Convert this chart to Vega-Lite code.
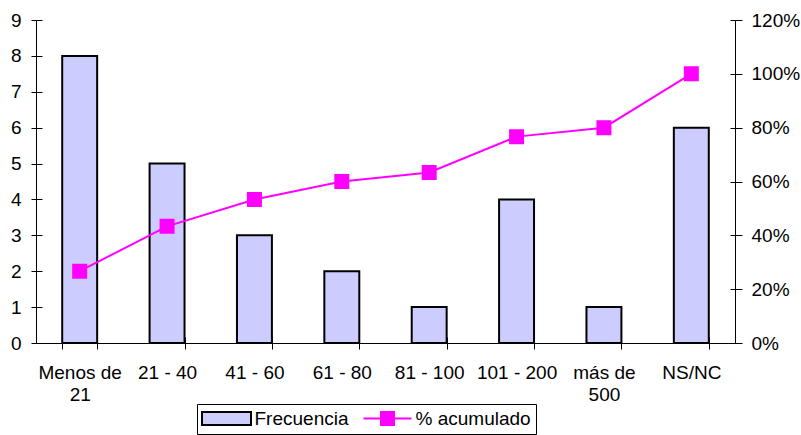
{
  "$schema": "https://vega.github.io/schema/vega-lite/v6.json",
  "width": 699,
  "height": 323,
  "autosize": {"type": "none"},
  "padding": {"left": 36, "top": 20, "right": 66, "bottom": 92},
  "background": "white",
  "config": {
    "view": {"stroke": null},
    "font": "Liberation Sans",
    "axis": {
      "labelFont": "Liberation Sans",
      "labelFontSize": 19,
      "labelColor": "black",
      "domainColor": "black",
      "domainWidth": 1,
      "tickColor": "black",
      "tickWidth": 1,
      "grid": false,
      "title": null
    },
    "legend": {
      "orient": "none", "legendX": 161, "legendY": 384, "direction": "horizontal",
      "title": null, "strokeColor": "black", "padding": 5,
      "symbolSize": 100, "symbolOffset": 15, "labelOffset": 18.5, "columnPadding": 10,
      "symbolStrokeWidth": 2, "symbolOpacity": 1, "symbolStrokeColor": "black",
      "labelFontSize": 19, "labelFont": "Liberation Sans", "labelColor": "black"
    }
  },
  "data": {
    "values": [
      {"cat": "Menos de 21", "freq": 8, "pct": 0.2667},
      {"cat": "21 - 40", "freq": 5, "pct": 0.4333},
      {"cat": "41 - 60", "freq": 3, "pct": 0.5333},
      {"cat": "61 - 80", "freq": 2, "pct": 0.6},
      {"cat": "81 - 100", "freq": 1, "pct": 0.6333},
      {"cat": "101 - 200", "freq": 4, "pct": 0.7667},
      {"cat": "más de 500", "freq": 1, "pct": 0.8},
      {"cat": "NS/NC", "freq": 6, "pct": 1.0}
    ]
  },
  "layer": [
    {
      "mark": {"type": "bar", "stroke": "black", "strokeWidth": 2},
      "encoding": {
        "x": {
          "field": "cat", "type": "nominal",
          "scale": {"domain": ["Menos de 21", "21 - 40", "41 - 60", "61 - 80", "81 - 100", "101 - 200", "más de 500", "NS/NC"], "paddingInner": 0.6, "paddingOuter": 0.3},
          "axis": {
            "orient": "bottom", "labelAngle": 0, "tickBand": "extent", "tickSize": 6,
            "labelPadding": 14, "labelBaseline": "top", "labelLineHeight": 22,
            "labelExpr": "datum.value == 'Menos de 21' ? ['Menos de', '21'] : datum.value == 'más de 500' ? ['más de', '500'] : datum.value"
          }
        },
        "y": {
          "field": "freq", "type": "quantitative",
          "scale": {"domain": [0, 9]},
          "axis": {"orient": "left", "values": [0, 1, 2, 3, 4, 5, 6, 7, 8, 9], "tickSize": 5, "labelPadding": 10}
        },
        "fill": {
          "datum": "Frecuencia",
          "scale": {"domain": ["Frecuencia", "% acumulado"], "range": ["#CCCCFF", "#FF00FF"]}
        }
      }
    },
    {
      "mark": {"type": "line", "strokeWidth": 2, "point": {"shape": "square", "size": 169, "filled": true, "fill": "#FF00FF"}},
      "encoding": {
        "x": {
          "field": "cat", "type": "nominal",
          "scale": {"domain": ["Menos de 21", "21 - 40", "41 - 60", "61 - 80", "81 - 100", "101 - 200", "más de 500", "NS/NC"], "paddingInner": 0.6, "paddingOuter": 0.3},
          "axis": null
        },
        "y": {
          "field": "pct", "type": "quantitative",
          "scale": {"domain": [0, 1.2]},
          "axis": {"orient": "right", "values": [0, 0.2, 0.4, 0.6, 0.8, 1.0, 1.2], "format": ".0%", "tickSize": 7, "labelPadding": 9}
        },
        "stroke": {
          "datum": "% acumulado",
          "scale": {"domain": ["Frecuencia", "% acumulado"], "range": ["black", "#FF00FF"]}
        }
      }
    },
    {
      "mark": {"type": "bar", "opacity": 0},
      "encoding": {
        "x": {
          "field": "cat", "type": "nominal",
          "scale": {"domain": ["Menos de 21", "21 - 40", "41 - 60", "61 - 80", "81 - 100", "101 - 200", "más de 500", "NS/NC"], "paddingInner": 0.6, "paddingOuter": 0.3},
          "axis": {"orient": "bottom", "offset": -6, "tickSize": 6, "tickBand": "extent", "labels": false, "domain": false}
        },
        "y": {
          "field": "freq", "type": "quantitative",
          "scale": {"domain": [0, 9]},
          "axis": {"orient": "left", "offset": -6, "tickSize": 6, "values": [0, 1, 2, 3, 4, 5, 6, 7, 8, 9], "labels": false, "domain": false}
        }
      }
    },
    {
      "mark": {"type": "line", "opacity": 0},
      "encoding": {
        "x": {
          "field": "cat", "type": "nominal",
          "scale": {"domain": ["Menos de 21", "21 - 40", "41 - 60", "61 - 80", "81 - 100", "101 - 200", "más de 500", "NS/NC"], "paddingInner": 0.6, "paddingOuter": 0.3},
          "axis": null
        },
        "y": {
          "field": "pct", "type": "quantitative",
          "scale": {"domain": [0, 1.2]},
          "axis": {"orient": "right", "offset": -5, "tickSize": 5, "values": [0, 0.2, 0.4, 0.6, 0.8, 1.0, 1.2], "labels": false, "domain": false}
        }
      }
    },
    {
      "mark": {"type": "point", "filled": true, "opacity": 0},
      "encoding": {
        "fill": {"datum": "Frecuencia"},
        "shape": {
          "datum": "Frecuencia",
          "scale": {"domain": ["Frecuencia", "% acumulado"], "range": ["M-4.9,-1.3H4.9V1.3H-4.9Z", "M-4.8,0H4.8M-1.3,-1.3H1.3V1.3H-1.3Z"]}
        },
        "stroke": {"datum": "Frecuencia"}
      }
    },
    {
      "mark": {"type": "point", "filled": true, "opacity": 0},
      "encoding": {
        "fill": {"datum": "% acumulado"},
        "shape": {"datum": "% acumulado"},
        "stroke": {"datum": "% acumulado"}
      }
    }
  ],
  "resolve": {"scale": {"x": "independent", "y": "independent"}}
}
